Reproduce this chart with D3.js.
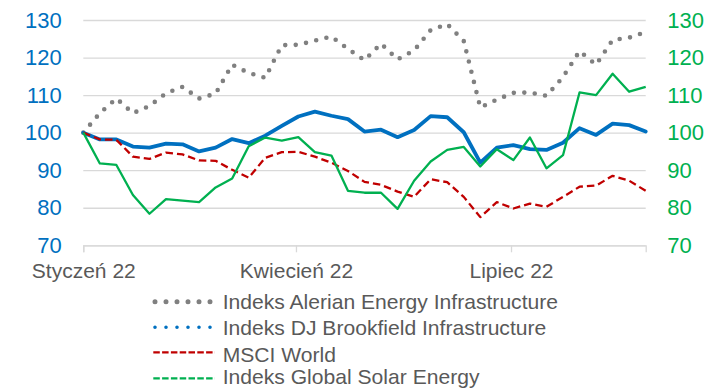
<!DOCTYPE html>
<html>
<head>
<meta charset="utf-8">
<script src="https://cdn.jsdelivr.net/npm/d3@7"></script>
<style>
  html, body { margin: 0; padding: 0; background: #fff; }
  svg { display: block; font-family: "Liberation Sans", Arial, sans-serif; }
</style>
</head>
<body>
<svg id="chart" width="721" height="391"></svg>
<script>
// Weekly index levels (start = 100), first week of January 2022
const startDate = new Date(2022, 0, 1);
const weekCount = 35;

const alerian = [100, 105.2, 109.1, 105.2, 107.1, 110.5, 112.2, 109.1, 110.4, 118.1, 115.9, 114.6, 123.3, 123.4, 124.5, 125.6, 122.3, 119.3, 123.7, 119.5, 121.9, 127.3, 128.9, 124.4, 106.7, 108.8, 110.6, 110.7, 109.8, 114.8, 121.7, 118.1, 124.7, 125.3, 126.8];
const brookfield = [100, 98.2, 98.2, 96.3, 96.0, 97.1, 96.9, 95.0, 96.0, 98.3, 97.2, 99.2, 101.8, 104.3, 105.6, 104.5, 103.6, 100.3, 100.8, 98.8, 100.7, 104.4, 104.1, 100.1, 92.0, 96.0, 96.7, 95.6, 95.4, 97.3, 101.2, 99.4, 102.4, 102.0, 100.3];
const msciWorld = [100, 98.2, 98.1, 93.6, 93.0, 94.7, 94.2, 92.6, 92.5, 90.1, 88.0, 93.3, 94.8, 94.9, 93.6, 92.0, 89.8, 86.9, 86.1, 84.3, 82.9, 87.6, 86.8, 82.9, 77.5, 81.5, 79.8, 81.1, 80.25, 82.9, 85.6, 85.9, 88.5, 87.2, 84.5];
const globalSolar = [100, 91.8, 91.4, 83.4, 78.4, 82.3, 81.9, 81.5, 85.4, 87.8, 96.4, 98.7, 97.9, 98.8, 94.8, 93.9, 84.5, 84.0, 84.0, 79.7, 87.2, 92.3, 95.4, 96.2, 91.0, 95.6, 92.7, 98.7, 90.5, 94.0, 110.7, 110.0, 115.7, 110.9, 112.2];

const seriesNames = [
  "Indeks Alerian Energy Infrastructure",
  "Indeks DJ Brookfield Infrastructure",
  "MSCI World",
  "Indeks Global Solar Energy"
];

const xTickDates = [new Date(2022, 0, 1), new Date(2022, 3, 1), new Date(2022, 6, 1)];
const xTickLabels = ["Styczeń 22", "Kwiecień 22", "Lipiec 22"];
const yTicks = [70, 80, 90, 100, 110, 120, 130];

const dates = d3.range(weekCount).map(i => d3.timeDay.offset(startDate, 7 * i));

const svg = d3.select("#chart");
const plot = { left: 83.3, right: 645.7, top: 20, bottom: 245.3 };

const x = d3.scaleTime()
  .domain([dates[0], dates[dates.length - 1]])
  .range([plot.left, plot.right]);
const y = d3.scaleLinear().domain([70, 130]).range([plot.bottom, plot.top]);

// Horizontal gridlines
const grid = svg.append("g")
  .attr("transform", `translate(${plot.left},0)`)
  .call(d3.axisLeft(y).tickValues(yTicks).tickSize(-(plot.right - plot.left)).tickFormat(""));
grid.select(".domain").remove();
grid.selectAll("line").attr("stroke", "#D9D9D9").attr("stroke-width", 1.3);

// Bottom axis with month ticks
const xAxis = svg.append("g")
  .attr("transform", `translate(0,${plot.bottom})`)
  .call(d3.axisBottom(x).tickValues(xTickDates).tickSize(7).tickPadding(10.5)
    .tickFormat((d, i) => xTickLabels[i]));
xAxis.select(".domain").attr("stroke", "#D9D9D9").attr("stroke-width", 1.3);
xAxis.selectAll("line").attr("stroke", "#D9D9D9").attr("stroke-width", 1.3);
xAxis.selectAll("text").attr("fill", "#595959").style("font-size", "21px")
  .attr("font-family", "Liberation Sans, Arial, sans-serif");

// Left and right value axes
const yLeft = svg.append("g")
  .attr("transform", `translate(${plot.left},0)`)
  .call(d3.axisLeft(y).tickValues(yTicks).tickSize(0).tickPadding(21.6));
yLeft.select(".domain").remove();
yLeft.selectAll("text").attr("fill", "#0070C0").style("font-size", "22px")
  .attr("font-family", "Liberation Sans, Arial, sans-serif");

const yRight = svg.append("g")
  .attr("transform", `translate(${plot.right},0)`)
  .call(d3.axisRight(y).tickValues(yTicks).tickSize(0).tickPadding(21.6));
yRight.select(".domain").remove();
yRight.selectAll("text").attr("fill", "#00B050").style("font-size", "22px")
  .attr("font-family", "Liberation Sans, Arial, sans-serif");

// Series lines
const line = d3.line().x((d, i) => x(dates[i])).y(d => y(d));

const styles = [
  { data: alerian, color: "#808080", width: 4.6, dash: "0 10.5", cap: "round" },
  { data: brookfield, color: "#0070C0", width: 3.8, dash: null, cap: "round" },
  { data: msciWorld, color: "#C00000", width: 2.3, dash: "7.5 4", cap: "butt" },
  { data: globalSolar, color: "#00B050", width: 2.3, dash: null, cap: "butt" }
];

styles.forEach(s => {
  svg.append("path")
    .datum(s.data)
    .attr("d", line)
    .attr("fill", "none")
    .attr("stroke", s.color)
    .attr("stroke-width", s.width)
    .attr("stroke-linejoin", "round")
    .attr("stroke-linecap", s.cap)
    .attr("stroke-dasharray", s.dash);
});

// Legend
const legendRows = [
  { name: seriesNames[0], color: "#808080", width: 5, dash: "0 11", cap: "round", x0: 155, x1: 211, lineY: 301.7, textY: 309 },
  { name: seriesNames[1], color: "#0070C0", width: 3.6, dash: "0 11", cap: "round", x0: 155, x1: 211, lineY: 327.3, textY: 335 },
  { name: seriesNames[2], color: "#C00000", width: 2.3, dash: "6.5 2.3", cap: "butt", x0: 153.3, x1: 215, lineY: 352.3, textY: 361.5 },
  { name: seriesNames[3], color: "#00B050", width: 2.3, dash: "6.5 2.3", cap: "butt", x0: 153.3, x1: 215, lineY: 378.3, textY: 383.5 }
];

const legend = svg.append("g");
legendRows.forEach(r => {
  legend.append("line")
    .attr("x1", r.x0).attr("x2", r.x1)
    .attr("y1", r.lineY).attr("y2", r.lineY)
    .attr("stroke", r.color)
    .attr("stroke-width", r.width)
    .attr("stroke-linecap", r.cap)
    .attr("stroke-dasharray", r.dash);
  legend.append("text")
    .attr("x", 222.7).attr("y", r.textY)
    .attr("fill", "#595959")
    .style("font-size", "21.1px")
    .text(r.name);
});
</script>
</body>
</html>
